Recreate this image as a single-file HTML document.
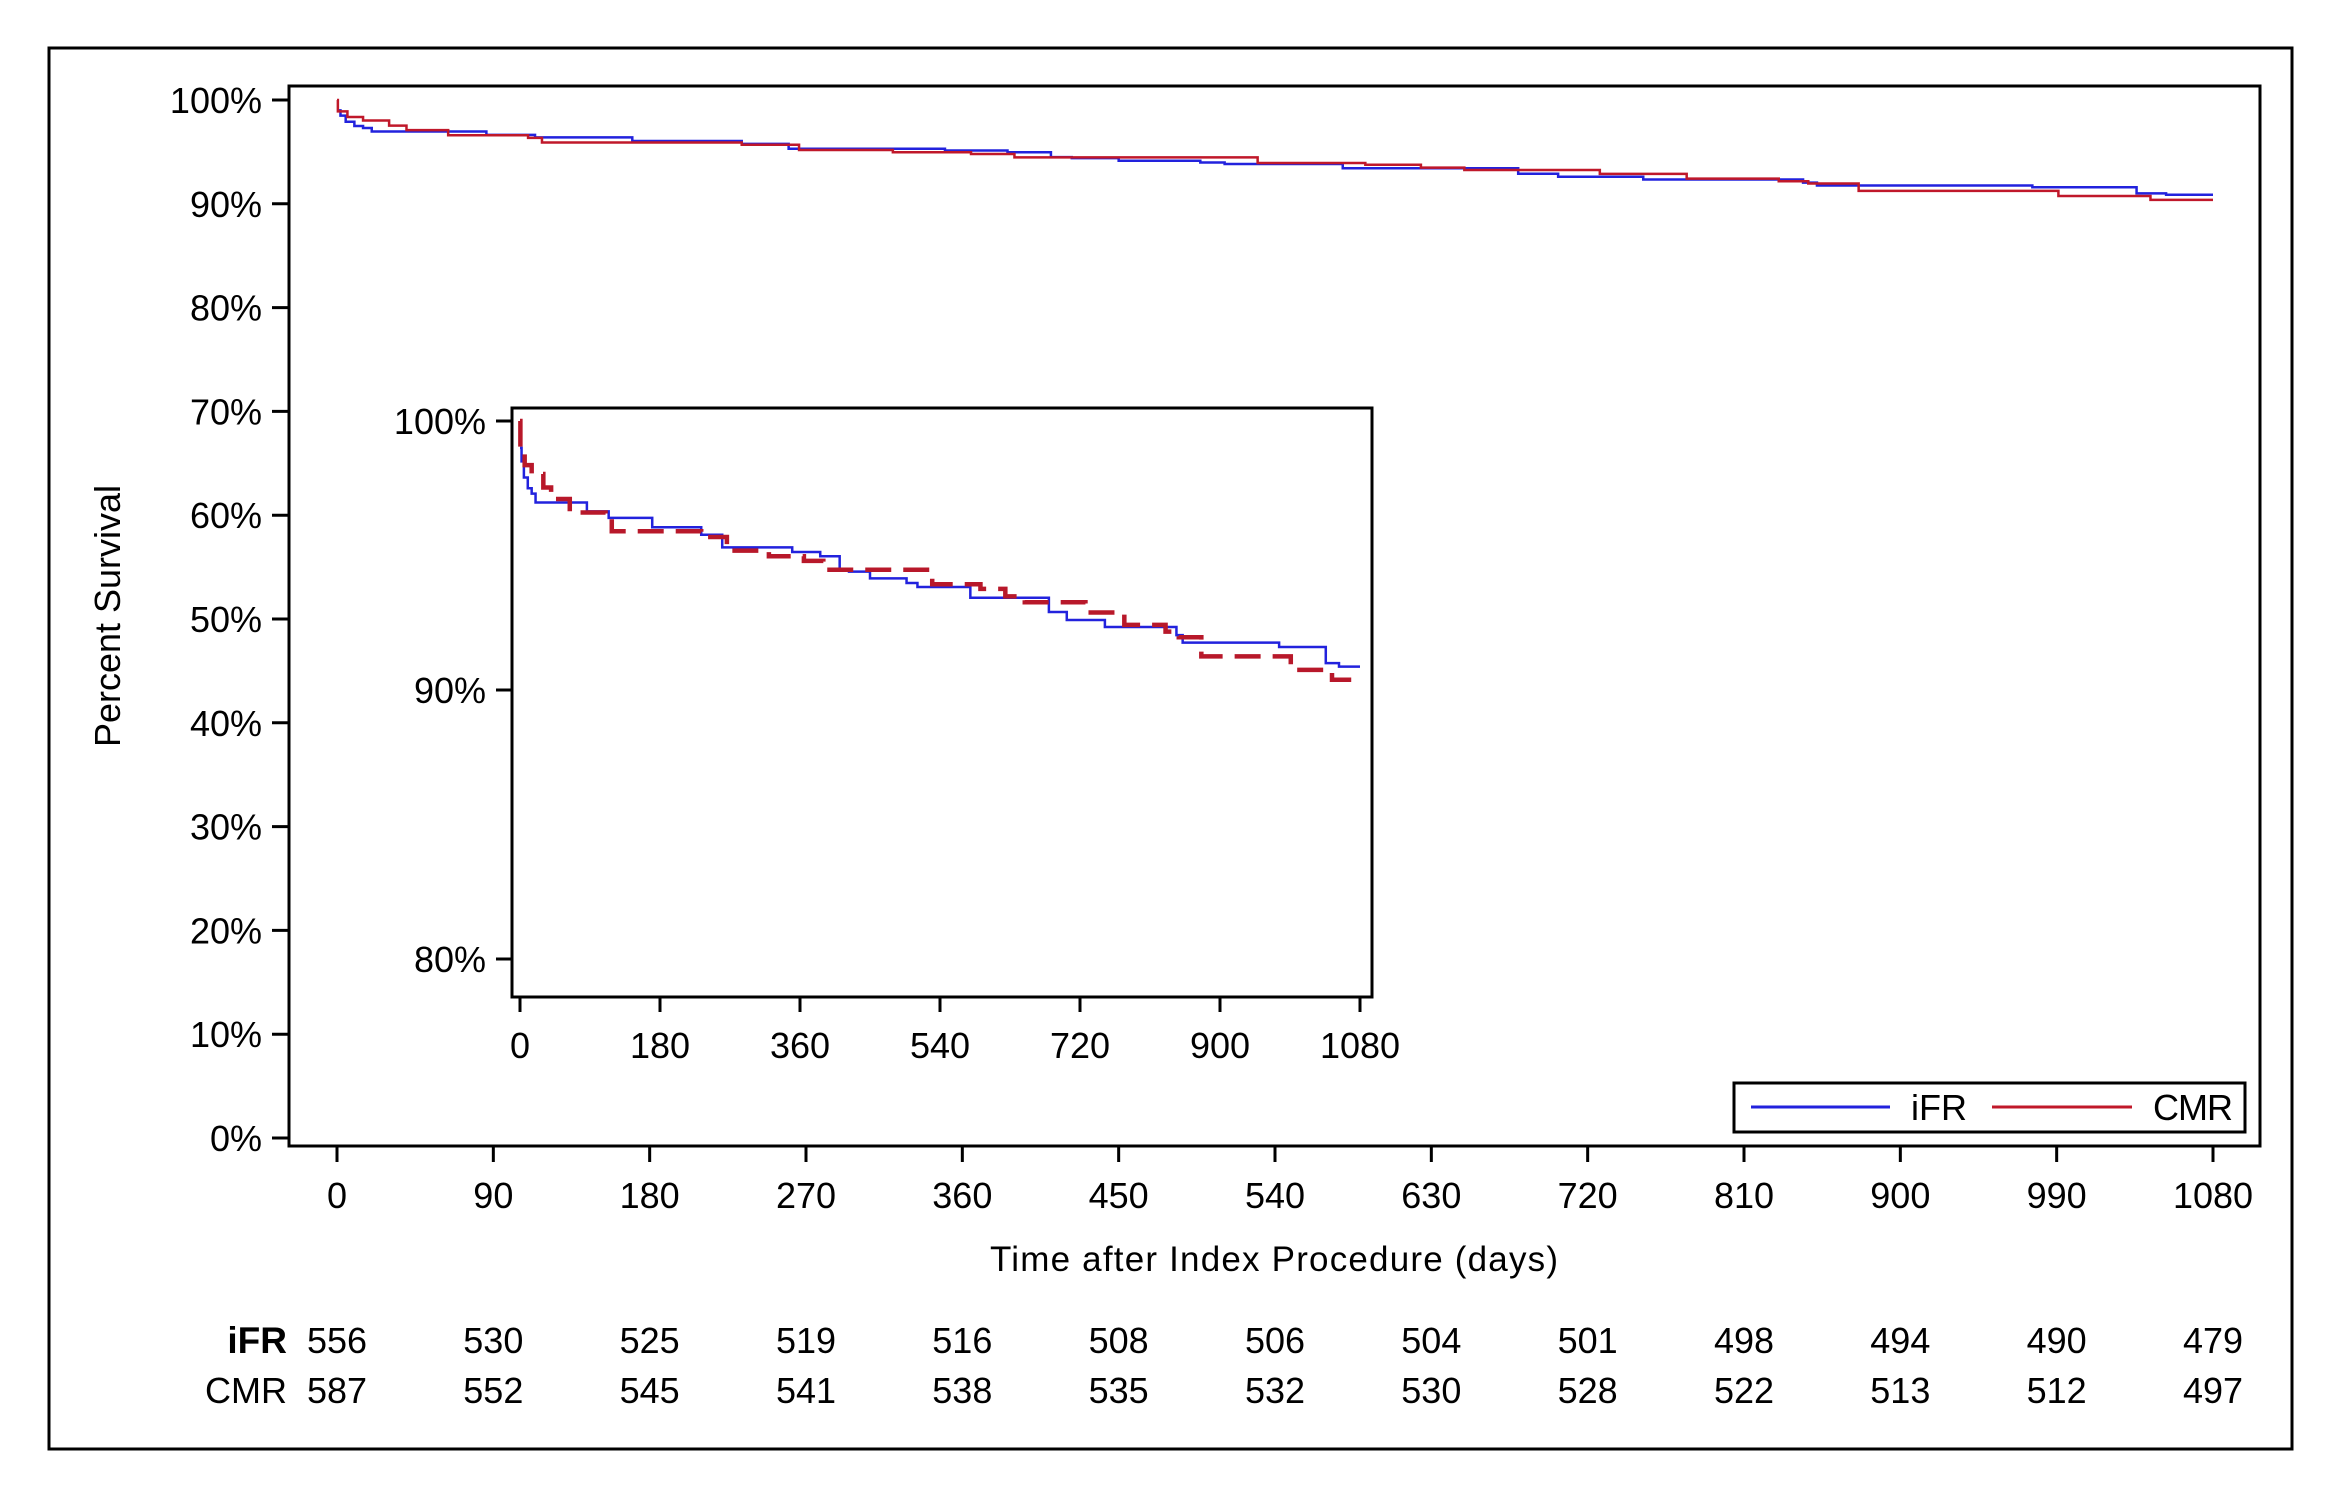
<!DOCTYPE html>
<html><head><meta charset="utf-8"><style>
html,body{margin:0;padding:0;background:#fff;}
svg{display:block;font-family:"Liberation Sans",Arial,sans-serif;}
</style></head><body>
<svg id="chart" width="2351" height="1510" viewBox="0 0 2351 1510" xmlns="http://www.w3.org/2000/svg">
<rect x="49" y="48" width="2243" height="1401" fill="#fff" stroke="#000" stroke-width="3"/>
<g id="main"></g>
<g id="inset"></g>
<g id="legend">
  <rect x="1734" y="1083" width="511" height="49" fill="#fff" stroke="#000" stroke-width="3"/>
  <line x1="1751" y1="1107" x2="1890" y2="1107" stroke="#2222dd" stroke-width="3"/>
  <text x="1911" y="1120" font-size="36">iFR</text>
  <line x1="1992" y1="1107" x2="2132" y2="1107" stroke="#c0182a" stroke-width="3"/>
  <text x="2153" y="1120" font-size="36" textLength="80">CMR</text>
</g>
<text x="0" y="0" font-size="36" text-anchor="middle" transform="translate(120,616) rotate(-90)">Percent Survival</text>
<text x="1274" y="1271" font-size="35" text-anchor="middle" textLength="568">Time after Index Procedure (days)</text>
<g id="risk"></g>
</svg>
<script>
// ---- data ----
const ifrDays = [0, 2, 5, 10, 15, 20, 86, 114, 170, 233, 260, 350, 386, 411, 423, 450, 497, 511, 579, 680, 703, 752, 844, 852, 976, 1036, 1053];
const ifrSurv = [99.0, 98.5, 97.9, 97.5, 97.3, 96.97, 96.64, 96.4, 96.05, 95.77, 95.3, 95.13, 94.97, 94.5, 94.4, 94.15, 93.98, 93.83, 93.43, 92.9, 92.6, 92.34, 92.04, 91.76, 91.6, 91.0, 90.87];
const cmrDays = [0, 0.5, 6, 15, 30, 40, 64, 110, 118, 233, 266, 320, 365, 390, 530, 592, 624, 649, 727, 777, 830, 847, 876, 991, 1044];
const cmrSurv = [100, 98.9, 98.36, 98.03, 97.53, 97.1, 96.6, 96.35, 95.9, 95.69, 95.18, 94.97, 94.8, 94.47, 93.93, 93.76, 93.48, 93.26, 92.88, 92.42, 92.17, 91.96, 91.25, 90.75, 90.38];
const xTicks = [0, 90, 180, 270, 360, 450, 540, 630, 720, 810, 900, 990, 1080];
const yTicks = [0, 10, 20, 30, 40, 50, 60, 70, 80, 90, 100];
const insetXTicks = [0, 180, 360, 540, 720, 900, 1080];
const insetYTicks = [80, 90, 100];
const riskIfr = [556, 530, 525, 519, 516, 508, 506, 504, 501, 498, 494, 490, 479];
const riskCmr = [587, 552, 545, 541, 538, 535, 532, 530, 528, 522, 513, 512, 497];
const endDay = 1080;

const NS = "http://www.w3.org/2000/svg";
function mk(tag, attrs, parent, text) {
  const e = document.createElementNS(NS, tag);
  for (const k in attrs) e.setAttribute(k, attrs[k]);
  if (text !== undefined) e.textContent = text;
  parent.appendChild(e);
  return e;
}
function stepPath(days, surv, sx, sy) {
  let d = "M" + sx(days[0]) + "," + sy(surv[0]);
  for (let i = 1; i < days.length; i++) {
    d += " H" + sx(days[i]) + " V" + sy(surv[i]);
  }
  d += " H" + sx(endDay);
  return d;
}

// ---- main plot ----
const mx = d => 337 + (d / 1080) * (2213 - 337);
const my = v => 1138 - (v / 100) * (1138 - 100);
const main = document.getElementById("main");
let e = mk("rect", {x: 289, y: 86, width: 1971, height: 1060, fill: "#fff", stroke: "#000", "stroke-width": 3}, main);


yTicks.forEach(v => {
  let t = mk("line", {x1: 272, x2: 289, y1: my(v), y2: my(v), stroke: "#000", "stroke-width": 3}, main);
  
  
  let l = mk("text", {x: 262, y: my(v) + 13, "font-size": 36, "text-anchor": "end"}, main, v + "%");
  
  
});
xTicks.forEach(v => {
  let t = mk("line", {x1: mx(v), x2: mx(v), y1: 1146, y2: 1162, stroke: "#000", "stroke-width": 3}, main);
  
  
  let l = mk("text", {x: mx(v), y: 1208, "font-size": 36, "text-anchor": "middle"}, main, String(v));
  
  
});
let p = mk("path", {d: stepPath(ifrDays, ifrSurv, mx, my), fill: "none", stroke: "#2222dd", "stroke-width": 2.5}, main);


p = mk("path", {d: stepPath(cmrDays, cmrSurv, mx, my), fill: "none", stroke: "#c0182a", "stroke-width": 2.5}, main);



// ---- inset ----
const ix = d => 520 + (d / 1080) * (1360 - 520);
const iy = v => 690 - (v - 90) * ((960 - 422) / 20);
const inset = document.getElementById("inset");
e = mk("rect", {x: 512, y: 408, width: 860, height: 589, fill: "#fff", stroke: "#000", "stroke-width": 3}, inset);


insetYTicks.forEach(v => {
  let t = mk("line", {x1: 496, x2: 512, y1: iy(v), y2: iy(v), stroke: "#000", "stroke-width": 3}, inset);
  
  
  let l = mk("text", {x: 486, y: iy(v) + 13, "font-size": 36, "text-anchor": "end"}, inset, v + "%");
  
  
});
insetXTicks.forEach(v => {
  let t = mk("line", {x1: ix(v), x2: ix(v), y1: 997, y2: 1012, stroke: "#000", "stroke-width": 3}, inset);
  
  
  let l = mk("text", {x: ix(v), y: 1058, "font-size": 36, "text-anchor": "middle"}, inset, String(v));
  
  
});
p = mk("path", {d: stepPath(ifrDays, ifrSurv, ix, iy), fill: "none", stroke: "#2222dd", "stroke-width": 2.5}, inset);


p = mk("path", {d: stepPath(cmrDays, cmrSurv, ix, iy), fill: "none", stroke: "#b8182a", "stroke-width": 4.5, "stroke-dasharray": "26,12"}, inset);



// ---- at-risk table ----
const risk = document.getElementById("risk");
let h = mk("text", {x: 287, y: 1353, "font-size": 37, "font-weight": "bold", "text-anchor": "end"}, risk, "iFR");


h = mk("text", {x: 287, y: 1403, "font-size": 36, "text-anchor": "end"}, risk, "CMR");


xTicks.forEach((v, i) => {
  let a = mk("text", {x: mx(v), y: 1353, "font-size": 36, "text-anchor": "middle"}, risk, String(riskIfr[i]));
  
  
  let b = mk("text", {x: mx(v), y: 1403, "font-size": 36, "text-anchor": "middle"}, risk, String(riskCmr[i]));
  
  
});
</script>
</body></html>
